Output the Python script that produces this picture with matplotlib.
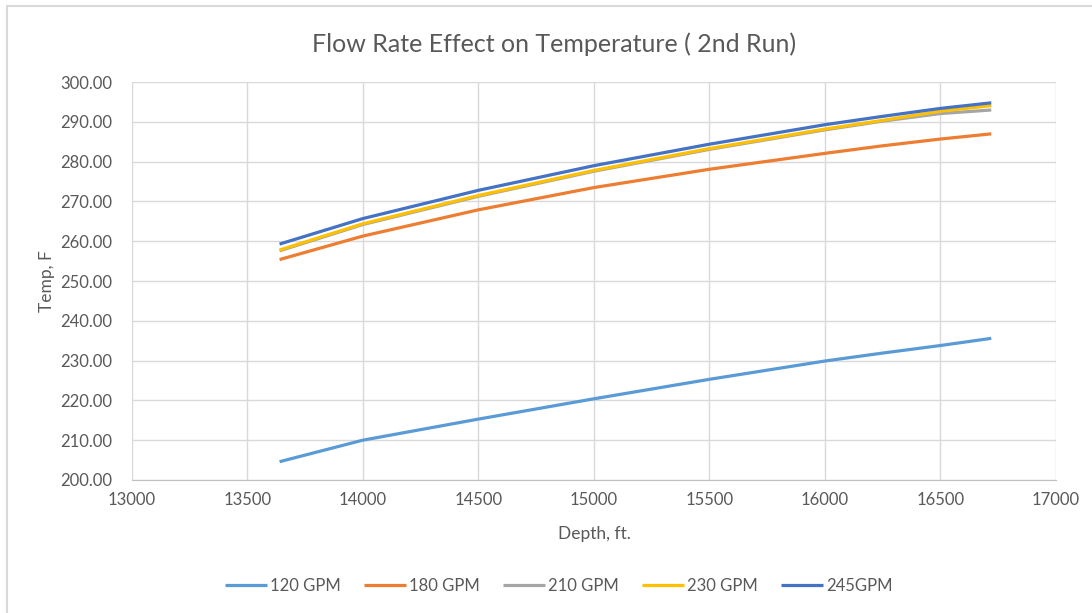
import matplotlib
matplotlib.use("Agg")
import matplotlib.pyplot as plt
from matplotlib.patches import Rectangle

plt.rcParams['font.family'] = ['Lato', 'DejaVu Sans']

depth = [13640, 14000, 14500, 15000, 15500, 16000, 16250, 16500, 16720]
gpm120 = [204.6, 210.0, 215.3, 220.4, 225.3, 229.9, 231.9, 233.8, 235.6]
gpm180 = [255.4, 261.3, 267.9, 273.5, 278.1, 282.1, 284.0, 285.7, 287.0]
gpm210 = [257.6, 264.2, 271.3, 277.6, 283.1, 288.0, 290.2, 292.1, 293.0]
gpm230 = [257.8, 264.4, 271.5, 277.8, 283.3, 288.2, 290.4, 292.7, 294.1]
gpm245 = [259.3, 265.7, 272.8, 279.0, 284.4, 289.3, 291.4, 293.4, 294.8]

series = [
    ("120 GPM", gpm120, "#5B9BD5"),
    ("180 GPM", gpm180, "#ED7D31"),
    ("210 GPM", gpm210, "#A5A5A5"),
    ("230 GPM", gpm230, "#FFC000"),
    ("245GPM", gpm245, "#4472C4"),
]

xticks = [13000, 13500, 14000, 14500, 15000, 15500, 16000, 16500, 17000]
yticks = [200, 210, 220, 230, 240, 250, 260, 270, 280, 290, 300]

fig = plt.figure(figsize=(10.92, 6.13), dpi=100)
fig.patches.append(Rectangle((0.006, -0.01), 1.1, 1.0, transform=fig.transFigure,
                             fill=False, edgecolor="#D9D9D9", linewidth=1.5))
ax = fig.add_axes([0.1206, 0.217, 0.8464, 0.649])

for name, vals, col in series:
    ax.plot(depth, vals, color=col, linewidth=2.3, label=name, solid_capstyle='butt')

ax.set_xlim(13000, 17000)
ax.set_ylim(200, 300)
ax.set_xticks(xticks)
ax.set_yticks(yticks)
ax.set_xticklabels([str(t) for t in xticks])
ax.set_yticklabels([f"{t:.2f}" for t in yticks])
ax.grid(True, color="#D9D9D9", linewidth=1.0)
ax.set_axisbelow(True)
for s in ["top", "right", "left"]:
    ax.spines[s].set_visible(False)
ax.spines["bottom"].set_color("#BFBFBF")
ax.tick_params(axis='x', length=0, labelsize=12, labelcolor="#595959", pad=9)
ax.tick_params(axis='y', length=0, labelsize=12, labelcolor="#595959", pad=14)

fig.text(554 / 1092, 1 - 44 / 613, "Flow Rate Effect on Temperature ( 2nd Run)",
         fontsize=18, fontweight='normal', color="#595959", ha='center', va='center')
fig.text(594 / 1092, 1 - 534 / 613, "Depth, ft.", fontsize=12.5, color="#595959",
         ha='center', va='center')
fig.text(47 / 1092, 1 - 281 / 613, "Temp, F", fontsize=12.5, color="#595959",
         ha='center', va='center', rotation=90)

leg = fig.legend(loc="center", bbox_to_anchor=(559 / 1092, 1 - 586 / 613), ncol=5, frameon=False,
                 fontsize=12, handlelength=2.5, columnspacing=1.4, handletextpad=0.2)
for t in leg.get_texts():
    t.set_color("#595959")

fig.savefig("out.png", dpi=100)
